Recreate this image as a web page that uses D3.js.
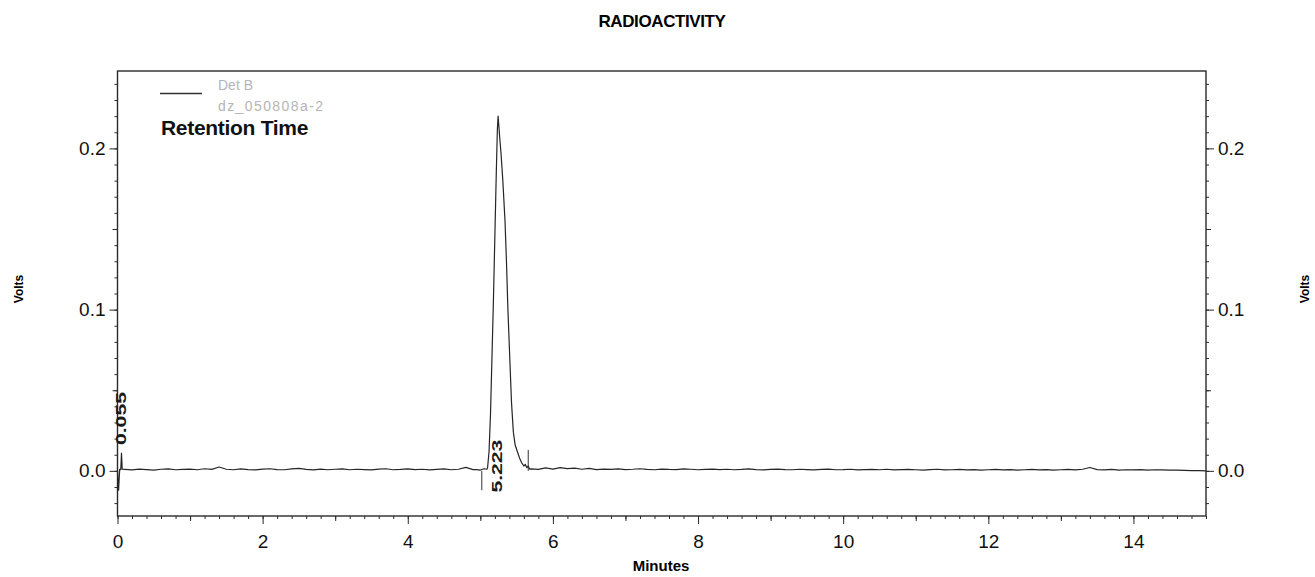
<!DOCTYPE html>
<html>
<head>
<meta charset="utf-8">
<script src="https://cdn.jsdelivr.net/npm/d3@7"></script>
<style>
  body { margin: 0; background: #fff; }
  svg { display: block; font-family: "Liberation Sans", Arial, sans-serif; }
</style>
</head>
<body>
<svg id="chart" width="1315" height="577"></svg>
<script>
// ---- data ----
var xTicks = [0, 2, 4, 6, 8, 10, 12, 14];
var yTicks = [0.0, 0.1, 0.2];

// start of run, small dip + spike at 0.055
var startTrace = [[0, 0.0004], [0.015, -0.012], [0.03, 0.001], [0.045, 0.0008], [0.055, 0.011], [0.065, 0.001]];

// baseline before the peak, t = 0.1 .. 4.9 step 0.1 (units of 0.1 mV)
var preBase = [9, 6, 11, 8, 5, 10, 12, 7, 9, 11,
               7, 13, 9, 24, 10, 7, 12, 8, 6, 11,
               13, 8, 7, 12, 15, 9, 6, 11, 7, 10,
               12, 7, 10, 8, 6, 11, 13, 7, 9, 12,
               8, 10, 6, 9, 12, 7, 10, 22, 8];

// main peak (minutes, volts)
var peakTrace = [[4.95, 0.0008], [5.0, 0.0005], [5.05, 0.0013], [5.09, 0.001],
  [5.10, 0.002], [5.12, 0.012], [5.14, 0.035], [5.16, 0.07], [5.18, 0.105],
  [5.20, 0.145], [5.22, 0.185], [5.235, 0.212], [5.245, 0.220], [5.255, 0.214],
  [5.27, 0.205], [5.285, 0.197], [5.31, 0.180], [5.34, 0.155], [5.36, 0.130],
  [5.38, 0.100], [5.41, 0.065], [5.43, 0.042], [5.455, 0.024], [5.48, 0.016],
  [5.51, 0.012], [5.54, 0.008], [5.57, 0.005], [5.60, 0.003], [5.62, 0.004],
  [5.64, 0.002], [5.66, 0.003], [5.68, 0.001]];

// baseline after the peak, t = 5.7 .. 15.0 step 0.1 (units of 0.1 mV)
var postBase = [12, 9, 18, 11, 20, 14, 17, 10, 15, 8,
                11, 9, 12, 8, 10, 13, 9, 7, 11, 9,
                8, 12, 10, 7, 9, 11, 8, 10, 7, 9,
                12, 8, 6, 9, 11, 8, 7, 10, 8, 6,
                9, 11, 7, 8, 10, 6, 8, 9, 7, 10,
                6, 8, 9, 7, 5, 8, 10, 6, 7, 9,
                6, 8, 5, 7, 9, 6, 8, 5, 7, 9,
                6, 8, 5, 7, 9, 6, 10, 21, 8, 6,
                9, 5, 7, 6, 8, 5, 7, 6, 4, 5,
                3, 2, 1, 0];

// integration markers (peak start / end)
var markers = [
  { t: 5.02, v0: 0, v1: -0.012 },
  { t: 5.66, v0: 0.013, v1: 0 }
];
// retention time labels; v = where the rotated text starts
var peakLabels = [{ t: 0.055, v: 0.016, label: "0.055" }, { t: 5.223, v: -0.0135, label: "5.223" }];

// build the trace from the pieces
var trace = startTrace.slice();
preBase.forEach(function (d, i) { trace.push([0.1 + i * 0.1, d * 1e-4]); });
peakTrace.forEach(function (d) { trace.push(d); });
postBase.forEach(function (d, i) { trace.push([5.7 + i * 0.1, d * 1e-4]); });

// ---- chart ----
var svg = d3.select("#chart");
var plotL = 117.5, plotR = 1206, plotT = 71, plotB = 516; // "top" is taken by window.top

var x = d3.scaleLinear().domain([0, 15]).range([plotL, plotR]);
var y = d3.scaleLinear().domain([-0.028, 0.248]).range([plotB, plotT]);

var axisColor = "#2a2a2a";

function addAxis(gen, tr) {
  var g = svg.append("g").attr("transform", tr).call(gen);
  g.select(".domain").remove();
  g.selectAll("line").attr("stroke", axisColor).attr("stroke-width", 1);
  return g;
}

// minor / mid / major ticks
var xMinor = d3.range(0, 15.01, 0.2);
var xMid = d3.range(1, 15, 2);
addAxis(d3.axisBottom(x).tickValues(xMinor).tickSize(3).tickFormat(""), "translate(0," + plotB + ")");
addAxis(d3.axisBottom(x).tickValues(xMid).tickSize(5).tickFormat(""), "translate(0," + plotB + ")");
addAxis(d3.axisBottom(x).tickValues(xTicks).tickSize(8).tickPadding(11).tickFormat(d3.format("d")), "translate(0," + plotB + ")");

var yMinor = d3.range(-0.02, 0.245, 0.01);
var yMid = [0.05, 0.15];
[[d3.axisLeft, plotL], [d3.axisRight, plotR]].forEach(function (a) {
  var tr = "translate(" + a[1] + ",0)";
  addAxis(a[0](y).tickValues(yMinor).tickSize(3).tickFormat(""), tr);
  addAxis(a[0](y).tickValues(yMid).tickSize(5).tickFormat(""), tr);
  addAxis(a[0](y).tickValues(yTicks).tickSize(8).tickPadding(4).tickFormat(d3.format(".1f")), tr);
});

svg.selectAll(".tick text")
  .attr("fill", "#111")
  .style("font-size", "19px");

// frame
svg.append("rect")
  .attr("x", plotL).attr("y", plotT)
  .attr("width", plotR - plotL).attr("height", plotB - plotT)
  .attr("fill", "none").attr("stroke", axisColor).attr("stroke-width", 1.4);

// trace
var line = d3.line().x(function (d) { return x(d[0]); }).y(function (d) { return y(d[1]); });
svg.append("path")
  .datum(trace)
  .attr("d", line)
  .attr("fill", "none")
  .attr("stroke", "#262626")
  .attr("stroke-width", 1.2)
  .attr("stroke-linejoin", "round");

// integration markers
svg.selectAll(".marker").data(markers).enter().append("line")
  .attr("x1", function (d) { return x(d.t); }).attr("x2", function (d) { return x(d.t); })
  .attr("y1", function (d) { return y(d.v0); }).attr("y2", function (d) { return y(d.v1); })
  .attr("stroke", "#333").attr("stroke-width", 1);

// peak labels, rotated
svg.selectAll(".plabel").data(peakLabels).enter().append("text")
  .attr("transform", function (d) {
    return "translate(" + (x(d.t) + 5) + "," + y(d.v) + ") rotate(-90)";
  })
  .attr("textLength", 53)
  .attr("lengthAdjust", "spacingAndGlyphs")
  .style("font-size", "15px")
  .style("font-weight", "bold")
  .attr("fill", "#1a1a1a")
  .text(function (d) { return d.label; });

// title and axis names
svg.append("text")
  .attr("x", 662).attr("y", 26.5)
  .attr("text-anchor", "middle")
  .style("font-size", "17px").style("font-weight", "bold")
  .style("letter-spacing", "-0.4px")
  .text("RADIOACTIVITY");

svg.append("text")
  .attr("x", 661).attr("y", 571)
  .attr("text-anchor", "middle")
  .style("font-size", "15px").style("font-weight", "bold")
  .text("Minutes");

[19, 1305].forEach(function (cx) {
  svg.append("text")
    .attr("transform", "translate(" + (cx + 4) + ",289) rotate(-90)")
    .attr("text-anchor", "middle")
    .style("font-size", "12px").style("font-weight", "bold")
    .text("Volts");
});

// legend
svg.append("line")
  .attr("x1", 160).attr("x2", 202).attr("y1", 93.5).attr("y2", 93.5)
  .attr("stroke", "#333").attr("stroke-width", 1.4);
svg.append("text").attr("x", 218).attr("y", 90)
  .style("font-size", "14px").attr("fill", "#b5b5b5").text("Det B");
svg.append("text").attr("x", 218).attr("y", 111)
  .attr("textLength", 105)
  .style("font-size", "14px").attr("fill", "#b5b5b5").text("dz_050808a-2");
svg.append("text").attr("x", 161).attr("y", 135)
  .style("font-size", "21px").style("font-weight", "bold")
  .style("letter-spacing", "-0.3px")
  .attr("fill", "#111")
  .text("Retention Time");
</script>
</body>
</html>
